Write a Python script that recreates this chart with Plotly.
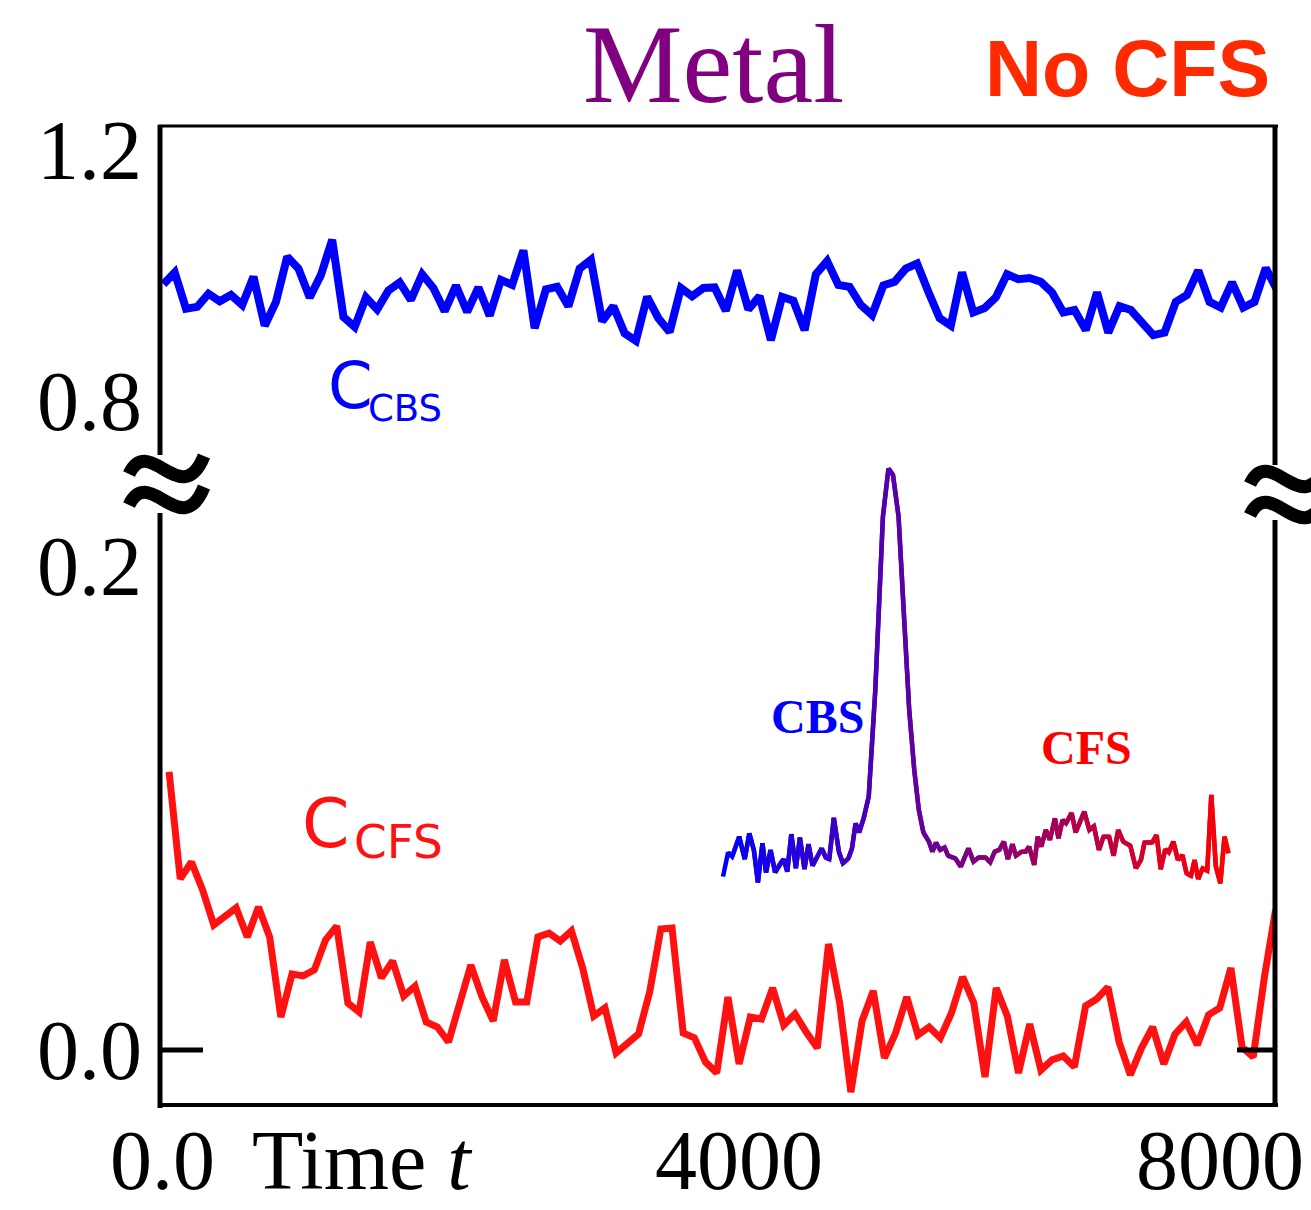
import numpy as np
import plotly.graph_objects as go

# ---------------- data ----------------
# C_CBS(t): upper panel (blue), sampled uniformly in time
t_cbs_first, t_cbs_last = 25, 8000
c_cbs = [0.986, 1.005, 0.947, 0.950, 0.971, 0.959, 0.969, 0.953, 0.998, 0.920,
         0.958, 1.030, 1.011, 0.965, 1.001, 1.057, 0.934, 0.918, 0.965, 0.946,
         0.976, 0.989, 0.961, 1.002, 0.980, 0.943, 0.984, 0.942, 0.981, 0.936,
         0.993, 0.985, 1.040, 0.916, 0.978, 0.982, 0.951, 1.011, 1.025, 0.927,
         0.951, 0.908, 0.896, 0.966, 0.932, 0.910, 0.980, 0.967, 0.980, 0.981,
         0.944, 1.008, 0.946, 0.967, 0.897, 0.966, 0.960, 0.913, 1.002, 1.023,
         0.985, 0.982, 0.953, 0.937, 0.984, 0.990, 1.011, 1.019, 0.974, 0.932,
         0.920, 1.005, 0.941, 0.948, 0.965, 1.002, 0.994, 0.996, 0.990, 0.973,
         0.941, 0.945, 0.913, 0.973, 0.909, 0.951, 0.945, 0.926, 0.905, 0.909,
         0.958, 0.969, 1.008, 0.958, 0.949, 0.989, 0.949, 0.958, 1.012, 0.977]

# C_CFS(t): lower panel (red), sampled uniformly in time
t_cfs_first, t_cfs_last = 65, 7990
c_cfs = [0.1149, 0.0707, 0.0777, 0.0661, 0.0517, 0.0550, 0.0587, 0.0467, 0.0591, 0.0467,
         0.0136, 0.0314, 0.0306, 0.0331, 0.0455, 0.0512, 0.0194, 0.0157, 0.0446, 0.0298,
         0.0368, 0.0223, 0.0264, 0.0116, 0.0095, 0.0033, 0.0198, 0.0351, 0.0219, 0.0120,
         0.0372, 0.0198, 0.0198, 0.0467, 0.0483, 0.0450, 0.0492, 0.0339, 0.0140, 0.0174,
         -0.0012, 0.0029, 0.0066, 0.0240, 0.0500, 0.0504, 0.0070, 0.0050, -0.0050, -0.0095,
         0.0219, -0.0058, 0.0136, 0.0128, 0.0256, 0.0103, 0.0149, 0.0074, 0.0008, 0.0438,
         0.0194, -0.0174, 0.0120, 0.0244, -0.0033, 0.0070, 0.0219, 0.0062, 0.0095, 0.0050,
         0.0153, 0.0302, 0.0194, -0.0112, 0.0256, 0.0140, -0.0095, 0.0107, -0.0083, -0.0041,
         -0.0025, -0.0070, 0.0182, 0.0211, 0.0260, 0.0033, -0.0103, 0.0008, 0.0095, -0.0058,
         0.0066, 0.0116, 0.0021, 0.0145, 0.0174, 0.0339, 0.0012, -0.0029, 0.0302, 0.0579]

# inset spectrum (normalised position / normalised intensity)
inset_pos = [0.000, 0.010, 0.018, 0.032, 0.043, 0.052, 0.061, 0.069, 0.078, 0.085,
             0.094, 0.103, 0.113, 0.120, 0.127, 0.135, 0.144, 0.152, 0.161, 0.169,
             0.177, 0.195, 0.203, 0.210, 0.219, 0.229, 0.237, 0.248, 0.255, 0.262,
             0.269, 0.278, 0.288, 0.301, 0.308, 0.316, 0.327, 0.336, 0.347, 0.357,
             0.368, 0.378, 0.387, 0.396, 0.407, 0.414, 0.421, 0.429, 0.438, 0.445,
             0.459, 0.470, 0.485, 0.495, 0.505, 0.519, 0.528, 0.537, 0.546, 0.555,
             0.563, 0.572, 0.579, 0.590, 0.598, 0.605, 0.615, 0.622, 0.629, 0.638,
             0.646, 0.656, 0.663, 0.671, 0.678, 0.689, 0.697, 0.714, 0.724, 0.733,
             0.743, 0.752, 0.763, 0.772, 0.781, 0.791, 0.805, 0.816, 0.826, 0.833,
             0.848, 0.857, 0.865, 0.874, 0.881, 0.890, 0.899, 0.908, 0.916, 0.925,
             0.932, 0.939, 0.948, 0.957, 0.965, 0.974, 0.983, 0.991, 0.999]
inset_val = [0.020, 0.078, 0.068, 0.116, 0.062, 0.124, 0.084, 0.006, 0.100, 0.030,
             0.084, 0.030, 0.052, 0.062, 0.032, 0.122, 0.040, 0.114, 0.038, 0.098,
             0.046, 0.088, 0.066, 0.062, 0.161, 0.080, 0.052, 0.064, 0.088, 0.148,
             0.126, 0.160, 0.212, 0.468, 0.659, 0.883, 0.999, 0.983, 0.883, 0.659,
             0.420, 0.276, 0.180, 0.126, 0.104, 0.080, 0.102, 0.084, 0.090, 0.070,
             0.064, 0.044, 0.088, 0.056, 0.066, 0.066, 0.054, 0.080, 0.084, 0.104,
             0.062, 0.098, 0.070, 0.080, 0.080, 0.092, 0.048, 0.116, 0.092, 0.132,
             0.108, 0.160, 0.112, 0.156, 0.148, 0.173, 0.126, 0.176, 0.132, 0.141,
             0.084, 0.116, 0.116, 0.070, 0.132, 0.104, 0.094, 0.040, 0.060, 0.102,
             0.102, 0.120, 0.038, 0.086, 0.078, 0.104, 0.060, 0.072, 0.028, 0.022,
             0.060, 0.014, 0.040, 0.034, 0.216, 0.044, 0.004, 0.116, 0.076]

x_tick_vals = [0, 4000, 8000]
x_tick_text = ["0.0", "4000", "8000"]
y_low_ticks = [0.0, 0.2]
y_low_text = ["0.0", "0.2"]
y_high_ticks = [0.8, 1.2]
y_high_text = ["0.8", "1.2"]

t_cbs = np.linspace(t_cbs_first, t_cbs_last, len(c_cbs))
t_cfs = np.linspace(t_cfs_first, t_cfs_last, len(c_cfs))

# ---------------- page geometry (pixels) ----------------
W, H = 1311, 1210
L, R, T, B = 160, 1277, 126, 1105


def fx(px):
    return (px - L) / (R - L)


def fy(py):
    return (B - py) / (B - T)


BREAK_PX = 485
BREAK = fy(BREAK_PX)

# lower panel: 0.0 at y=1050 px, 0.2 at y=566 px
low_per_px = 0.2 / (1050 - 566)
low_range = [-(B - 1050) * low_per_px, (1050 - BREAK_PX) * low_per_px]
# upper panel: 0.8 at y=401 px, 1.2 at y=150 px
high_per_px = 0.4 / (401 - 150)
high_range = [0.8 - (BREAK_PX - 401) * high_per_px, 1.2 + (150 - T) * high_per_px]

# inset placement
ins_x0, ins_x1 = 723, 1229
ins_y0, ins_y1 = 885, 468   # pixel rows of value 0 and value 1
padx, pady = 0.01, 0.05
ins_dom_x = [fx(ins_x0 - padx * (ins_x1 - ins_x0)), fx(ins_x1 + padx * (ins_x1 - ins_x0))]
ins_dom_y = [fy(ins_y0 + pady * (ins_y0 - ins_y1)), fy(ins_y1 - pady * (ins_y0 - ins_y1))]

fig = go.Figure()

fig.add_trace(go.Scatter(x=t_cfs, y=c_cfs, mode="lines",
                         line=dict(color="#ff1111", width=7),
                         xaxis="x", yaxis="y", hoverinfo="skip"))
fig.add_trace(go.Scatter(x=t_cbs, y=c_cbs, mode="lines",
                         line=dict(color="#0000ff", width=8),
                         xaxis="x", yaxis="y2", hoverinfo="skip"))

# inset curve: colour runs from blue to red along the position axis
n = len(inset_pos)
for i in range(n - 1):
    j = min(i + 2, n - 1)
    f = 0.5 * (inset_pos[i] + inset_pos[i + 1])
    col = "rgb(%d,0,%d)" % (round(255 * f), round(255 * (1 - f)))
    fig.add_trace(go.Scatter(x=inset_pos[i:j + 1], y=inset_val[i:j + 1], mode="lines",
                             line=dict(color=col, width=4.5),
                             xaxis="x3", yaxis="y3", hoverinfo="skip"))

serif = "Liberation Serif"
tick_font = dict(family=serif, size=84, color="black")

fig.update_layout(
    width=W, height=H,
    margin=dict(l=L, r=W - R, t=T, b=H - B),
    paper_bgcolor="white", plot_bgcolor="white",
    showlegend=False, hovermode=False,
    xaxis=dict(domain=[0, 1], range=[0, 8000], showgrid=False, zeroline=False,
               showline=False, showticklabels=False, ticks="", anchor="y"),
    yaxis=dict(domain=[0, BREAK], range=low_range, tickvals=y_low_ticks, ticktext=y_low_text,
               tickfont=tick_font, showgrid=False, zeroline=False, showline=False,
               ticks="", ticklabelstandoff=17, anchor="x"),
    yaxis2=dict(domain=[BREAK, 1], range=high_range, tickvals=y_high_ticks, ticktext=y_high_text,
                tickfont=tick_font, showgrid=False, zeroline=False, showline=False,
                ticks="", ticklabelstandoff=17, anchor="x"),
    xaxis3=dict(domain=ins_dom_x, range=[-padx, 1 + padx], visible=False, anchor="y3"),
    yaxis3=dict(domain=ins_dom_y, range=[-pady, 1 + pady], visible=False, anchor="x3"),
)

# frame with breaks in the vertical sides
shapes = []


def seg(x0, y0, x1, y1, w):
    shapes.append(dict(type="line", xref="paper", yref="paper",
                       x0=fx(x0), y0=fy(y0), x1=fx(x1), y1=fy(y1),
                       line=dict(color="black", width=w)))


seg(L - 2, T, R + 1, T, 3)
seg(L - 2, B, R + 1, B, 4)
seg(L, T - 1, L, 455, 5)
seg(L, 513, L, B + 3, 5)
seg(R - 2, T - 1, R - 2, 465, 5)
seg(R - 2, 520, R - 2, B + 1, 5)

# tick marks at 0.0 on both sides
shapes.append(dict(type="line", xref="paper", yref="y", x0=0, x1=fx(203), y0=0, y1=0,
                   line=dict(color="black", width=5)))
shapes.append(dict(type="line", xref="paper", yref="y", x0=fx(1237), x1=1, y0=0, y1=0,
                   line=dict(color="black", width=5)))


def tilde(x0, yc, w=75):
    pts = [(x0, yc + 6), (x0 + 0.27 * w, yc - 36), (x0 + 0.70 * w, yc + 44), (x0 + w, yc - 12)]
    p = [(fx(a), fy(b)) for a, b in pts]
    path = "M %.5f,%.5f C %.5f,%.5f %.5f,%.5f %.5f,%.5f" % (
        p[0][0], p[0][1], p[1][0], p[1][1], p[2][0], p[2][1], p[3][0], p[3][1])
    shapes.append(dict(type="path", xref="paper", yref="paper", path=path,
                       line=dict(color="black", width=13)))


tilde(129, 468)
tilde(129, 499)
tilde(1250, 478)
tilde(1250, 509)

fig.update_layout(shapes=shapes)

ann = []


def text(x, y, s, size, color, family=serif, xref="paper", xshift=0):
    ann.append(dict(x=x, y=y, xref=xref, yref="paper", text=s, showarrow=False,
                    xanchor="center", yanchor="middle", xshift=xshift,
                    font=dict(family=family, size=size, color=color)))


text(fx(713), fy(64), "Metal", 112, "#800080")
text(fx(1127), fy(68), "<b>No CFS</b>", 79, "#ff2a00", family="Liberation Sans")

# curve labels
text(fx(350), fy(386), "C", 64, "#0000ff", family="DejaVu Sans")
text(fx(405), fy(408), "CBS", 37, "#0000ff", family="DejaVu Sans")
text(fx(325), fy(823), "C", 68, "#ff1111", family="DejaVu Sans")
text(fx(398), fy(842), "CFS", 47, "#ff1111", family="DejaVu Sans")

# inset labels
text(fx(817), fy(717), "<b>CBS</b>", 48, "#0000ff")
text(fx(1086), fy(747), "<b>CFS</b>", 48, "#ff0000")

# time axis labels
shifts = [2, 20, -57]
for v, s, dx in zip(x_tick_vals, x_tick_text, shifts):
    text(v, fy(1160), s, 84, "black", xref="x", xshift=dx)
text(fx(362), fy(1160), "Time <i>t</i>", 84, "black")

fig.update_layout(annotations=ann)

fig.write_html("out.html")
